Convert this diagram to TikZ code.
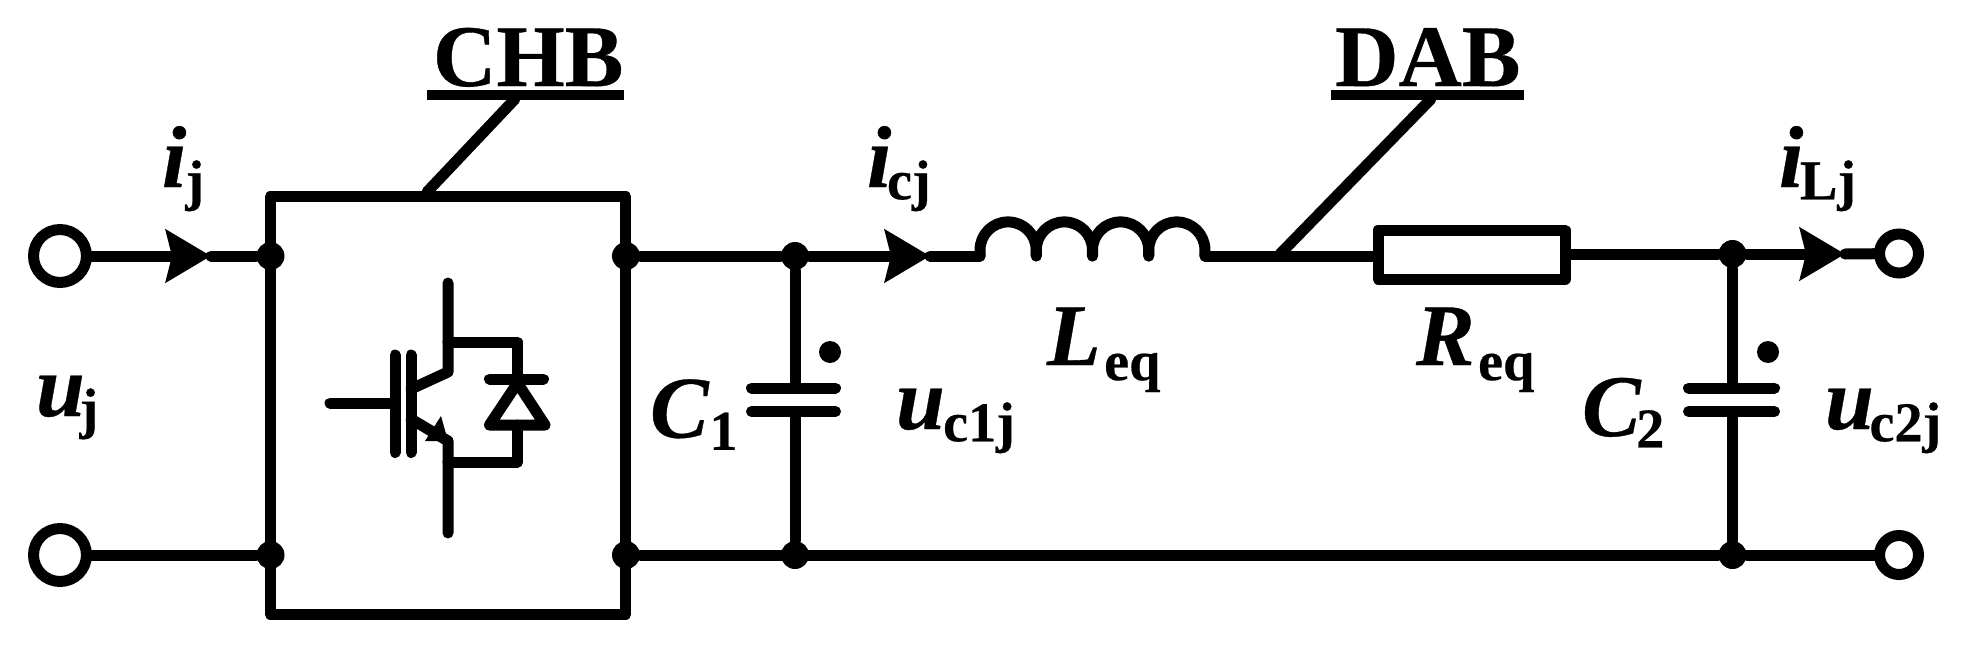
\documentclass[tikz,border=0pt]{standalone}
\usepackage{fontspec}
\setmainfont[BoldFeatures={FakeBold=0.4},BoldItalicFeatures={FakeBold=0.4}]{Liberation Serif}
\usetikzlibrary{arrows.meta}
\newcommand{\bigtxt}{\fontsize{50}{50}\selectfont\bfseries}
\newcommand{\symb}[4][0pt]{{\bigtxt\itshape #2}\kern#1\raisebox{-#4}{\fontsize{32}{32}\selectfont\bfseries #3}}
\tikzset{
  wire/.style={line width=0.22cm, line cap=round, line join=round},
  flat/.style={line width=0.2cm},
  lbl/.style={anchor=base west, inner sep=0pt, outer sep=0pt, text=black},
  dotj/.style={circle, fill=black, inner sep=0pt, minimum size=0.56cm},
  term/.style={circle, draw, line width=0.22cm, inner sep=0pt, fill=white},
  flow/.style={wire, -{Stealth[length=0.9cm, width=1.04cm, inset=0.12cm]}}
}
\begin{document}
\begin{tikzpicture}[x=0.02cm, y=-0.02cm]
        \useasboundingbox (0,0) rectangle (1973,656);
        % converter box and its ports
        \node [draw, wire, inner sep=0pt, minimum width=7.12cm, minimum height=8.35cm] (chbbox) at (448,405.5) {};
        \node [term, minimum size=1.06cm] (t1) at (60,256) {};
        \node [term, minimum size=1.06cm] (t2) at (60,555) {};
        \node [term, minimum size=0.78cm] (t3) at (1899,253.5) {};
        \node [term, minimum size=0.78cm] (t4) at (1899,555) {};
        \node [dotj] (j1) at (270.5,256) {};
        \node [dotj] (j2) at (270.5,555) {};
        \node [dotj] (j3) at (626,256) {};
        \node [dotj] (j4) at (626,555) {};
        \node [dotj] (j5) at (795,256) {};
        \node [dotj] (j6) at (795,555) {};
        \node [dotj] (j7) at (1732.5,254) {};
        \node [dotj] (j8) at (1732.5,555) {};
        \coordinate (a1) at (211,256);
        \coordinate (a2) at (930,256);
        \coordinate (a3) at (1845,254);
        \coordinate (la) at (980,256);
        \coordinate (lb) at (1205,256);
        \node [draw, wire, inner sep=0pt, minimum width=3.74cm, minimum height=0.98cm] (req) at (1471.5,254.5) {};
        % wires
        \draw [flow] (t1) -- (a1);
        \draw [wire] (a1) -- (j1);
        \draw [wire] (t2) -- (j2);
        \draw [wire] (j3) -- (j5);
        \draw [flow] (j5) -- (a2);
        \draw [wire] (a2) -- (la);
        \draw [wire] (lb) -- (req.west |- lb);
        \draw [wire] (req.east |- j7) -- (j7);
        \draw [flow] (j7) -- (a3);
        \draw [wire] (a3) -- (t3);
        \draw [wire] (j4) -- (j8);
        \draw [wire] (j8) -- (t4);
        % inductor
        \foreach \x in {980,1036.25,1092.5,1148.75}
            \draw [wire] (\x,256) -- ++(0,-6) arc [start angle=180, end angle=360, radius=28.1] -- ++(0,6);
        % capacitors
        \foreach \n/\j/\k/\xa/\xb/\xd in {c1/j5/j6/751.5/835.5/830, c2/j7/j8/1688.5/1774.5/1768} {
            \coordinate (\n a) at (\xa,388);
            \coordinate (\n b) at (\xb,388);
            \coordinate (\n c) at (\xa,411.5);
            \coordinate (\n d) at (\xb,411.5);
            \draw [wire] (\n a) -- (\n b);
            \draw [wire] (\n c) -- (\n d);
            \draw [wire] (\j) -- (\j |- \n a);
            \draw [wire] (\k) -- (\k |- \n c);
            \node [circle, fill=black, inner sep=0pt, minimum size=0.44cm] (\n dot) at (\xd,352) {};
        }
        % switch
        \draw [wire] (448,283) -- (448,372) -- (411,389);
        \draw [wire] (448,533) -- (448,441) -- (411,419);
        \draw [wire] (330,403) -- (395,403);
        \draw [wire] (395,355) -- (395,452.5);
        \draw [wire] (411,355) -- (411,452.5);
        \fill [wire, line width=0.08cm] (441,416) -- (425,441) -- (448,441) -- cycle;
        \draw [wire] (448,342) -- (517.5,342) -- (517.5,379);
        \draw [wire] (517.5,425) -- (517.5,462) -- (448,462);
        \draw [wire] (489.5,379) -- (543.5,379);
        \draw [wire] (489.5,425) -- (545,425) -- (517.5,383) -- cycle;
        % names with their leaders
        \node [lbl] (chb) at (433,86) {\bigtxt CHB};
        \node [lbl] (dab) at (1335,86) {\bigtxt DAB};
        \coordinate (chbl) at (427,95);
        \coordinate (chbr) at (624,95);
        \coordinate (dabl) at (1330.5,95);
        \coordinate (dabr) at (1524,95);
        \draw [flat] (chbl) -- (chbr);
        \draw [flat] (dabl) -- (dabr);
        \coordinate (chbf) at (515,99);
        \coordinate (chbt) at (427,192);
        \coordinate (dabf) at (1431,99);
        \coordinate (dabt) at (1280,254);
        \draw [wire] (chbf) -- (chbt);
        \draw [wire] (dabf) -- (dabt);
        % quantities
        \node [lbl] (ij) at (162,187) {\symb[-0.5pt]{i}{j}{7pt}};
        \node [lbl] (uj) at (36,416) {\symb[-3pt]{u}{j}{6.5pt}};
        \node [lbl] (icj) at (867,187) {\symb[-2.5pt]{i}{cj}{7pt}};
        \node [lbl] (ilj) at (1779,187) {\symb[-2pt]{i}{Lj}{7pt}};
        \node [lbl] (cone) at (650,437.5) {\symb[0.5pt]{C}{1}{7pt}};
        \node [lbl] (ctwo) at (1582,436) {\symb[-2.5pt]{C}{2}{6.5pt}};
        \node [lbl] (uca) at (896,429) {\symb[-1pt]{u}{c1j}{7pt}};
        \node [lbl] (ucb) at (1825,429) {\symb[-2.5pt]{u}{c2j}{7pt}};
        \node [lbl] (leq) at (1047,365) {\symb[2pt]{L}{eq}{8.6pt}};
        \node [lbl] (reqt) at (1416,365) {\symb[2pt]{R}{eq}{8.6pt}};
    \end{tikzpicture}
\end{document}
